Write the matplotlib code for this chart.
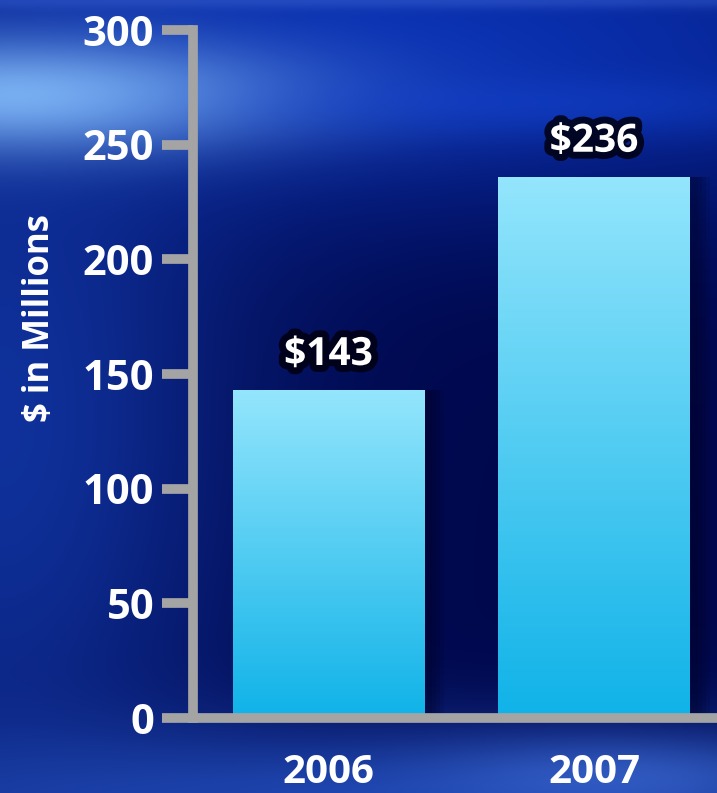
import numpy as np
import matplotlib
matplotlib.use('Agg')
import matplotlib.pyplot as plt
import matplotlib.patheffects as pe

plt.rcParams['font.family'] = ['Open Sans', 'DejaVu Sans']
plt.rcParams['font.weight'] = 'bold'

years = ["2006", "2007"]
revenue = [143, 236]
value_labels = ["$143", "$236"]
y_ticks = [0, 50, 100, 150, 200, 250, 300]

W, H = 717, 793
fig = plt.figure(figsize=(W / 100, H / 100), dpi=100)

# background: dark navy with soft blue light streaks
yy, xx = np.mgrid[0:H, 0:W]
bg = np.ones((H, W, 3)) * np.array([0.0, 0.03, 0.30])


def glow(img, cx, cy, sx, sy, color, strength):
    w = strength * np.exp(-(((xx - cx) / sx) ** 2 + ((yy - cy) / sy) ** 2) / 2)
    return img * (1 - w[..., None]) + np.array(color) * w[..., None]


bg = glow(bg, 360, 40, 520, 120, (0.04, 0.20, 0.72), 0.95)
bg = glow(bg, 0, 420, 170, 330, (0.07, 0.22, 0.66), 0.85)
bg = glow(bg, 20, 95, 190, 40, (0.52, 0.74, 0.98), 0.9)
bg = glow(bg, 560, 105, 220, 22, (0.08, 0.28, 0.85), 0.45)
bg = glow(bg, 380, 800, 520, 55, (0.12, 0.28, 0.70), 0.95)
bg = glow(bg, 620, 775, 130, 28, (0.30, 0.50, 0.92), 0.45)
bg = glow(bg, 360, 0, 600, 6, (0.20, 0.35, 0.80), 0.6)
bg_ax = fig.add_axes([0, 0, 1, 1], zorder=-10)
bg_ax.imshow(np.clip(bg, 0, 1), aspect='auto')
bg_ax.axis('off')

ax = fig.add_axes([193 / W, 75 / H, (W - 193) / W, (718 - 30) / H])
ax.patch.set_alpha(0)

x = np.arange(len(years))
bar_w = 0.72

# soft drop shadows on the right of each bar
for k in range(4):
    ax.bar(x + 0.03 + 0.015 * k, revenue, width=bar_w, color='#000020',
           alpha=0.12, zorder=1)

bars = ax.bar(x, revenue, width=bar_w, color='none', zorder=2)
grad = np.linspace(0, 1, 256)[:, None]
top_c = np.array([0.58, 0.90, 0.99])
bot_c = np.array([0.06, 0.70, 0.91])
grad_img = (bot_c * grad[..., None] + top_c * (1 - grad[..., None]))
grad_img = np.repeat(grad_img, 2, axis=1)
for b in bars:
    bx, bw, bh = b.get_x(), b.get_width(), b.get_height()
    im = ax.imshow(grad_img, extent=[bx, bx + bw, 0, bh], aspect='auto', zorder=2)
    im.set_clip_path(b)

ax.set_xlim(-0.51, 1.463)
ax.set_ylim(0, 300)

for xi, val, lab in zip(x, revenue, value_labels):
    ax.text(xi, val + 7, lab, ha='center', va='bottom', color='white',
            fontsize=28, fontweight='bold',
            path_effects=[pe.withStroke(linewidth=10, foreground='#000010', alpha=0.85)])

for s in ['top', 'right']:
    ax.spines[s].set_visible(False)
for s in ['left', 'bottom']:
    ax.spines[s].set_color('#a4a4a4')
    ax.spines[s].set_linewidth(7)

ax.set_yticks(y_ticks)
ax.set_yticklabels([str(t) for t in y_ticks])
ax.tick_params(axis='y', length=22, width=7, color='#a4a4a4', pad=6,
               labelsize=30, labelcolor='white')
ax.set_xticks(x)
ax.set_xticklabels(years)
ax.tick_params(axis='x', length=0, pad=25, labelsize=29, labelcolor='white')
for t in ax.get_yticklabels() + ax.get_xticklabels():
    t.set_fontweight('bold')

fig.text(40 / W, 1 - 318 / H, "$ in Millions", rotation=90, ha='center', va='center',
         color='white', fontsize=25, fontweight='bold')

fig.savefig('out.png', dpi=100)
